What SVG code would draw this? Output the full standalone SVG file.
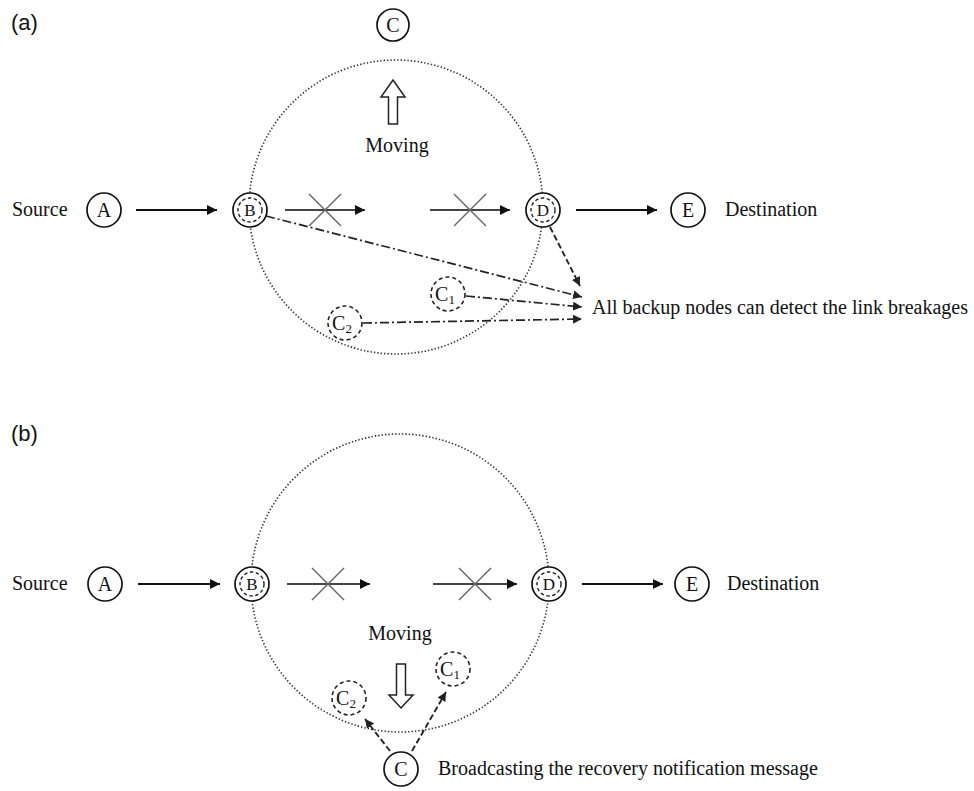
<svg xmlns="http://www.w3.org/2000/svg" width="974" height="791" viewBox="0 0 974 791">
<defs>
<marker id="ah" markerUnits="userSpaceOnUse" markerWidth="11" markerHeight="10" refX="10" refY="5" orient="auto"><path d="M0,0 L10,5 L0,10 z" fill="#111"/></marker>
<marker id="ah2" markerUnits="userSpaceOnUse" markerWidth="10" markerHeight="9" refX="9" refY="4.5" orient="auto"><path d="M0,0 L9,4.5 L0,9 z" fill="#222"/></marker>
</defs>
<style>
.lab{font-family:"Liberation Sans",Arial,sans-serif;font-size:22px;fill:#111}
.t{font-family:"Liberation Serif","Times New Roman",serif;font-size:20px;fill:#111}
.nl{font-family:"Liberation Serif","Times New Roman",serif;font-size:20px;fill:#111;text-anchor:middle}
.ns{font-family:"Liberation Serif","Times New Roman",serif;font-size:17px;fill:#111;text-anchor:middle}
.node{fill:#fff;stroke:#111;stroke-width:1.7}
.inner{fill:none;stroke:#222;stroke-width:1.4;stroke-dasharray:3.5 2.5}
.dnode{fill:#fff;stroke:#222;stroke-width:1.6;stroke-dasharray:4 3}
.range{fill:none;stroke:#333;stroke-width:1.6;stroke-dasharray:1.4 2}
.arr{stroke:#111;stroke-width:2;fill:none;marker-end:url(#ah)}
.brk{stroke:#444;stroke-width:2;fill:none;marker-end:url(#ah)}
.x{stroke:#666;stroke-width:1.5}
.dd{stroke:#222;stroke-width:1.7;fill:none;stroke-dasharray:9 3 2 3;marker-end:url(#ah2)}
.ds{stroke:#222;stroke-width:1.9;fill:none;stroke-dasharray:6 3;marker-end:url(#ah2)}
.hollow{fill:#fff;stroke:#222;stroke-width:1.5}
</style>
<text class="lab" x="11" y="30">(a)</text>
<text class="lab" x="11" y="441">(b)</text>
<circle class="range" cx="396" cy="207" r="147"/>
<circle class="range" cx="400" cy="583" r="149"/>
<g id="connectors">
<line class="arr" x1="136" y1="210" x2="217" y2="210"/>
<line class="brk" x1="285" y1="210" x2="365" y2="210"/>
<line class="x" x1="309" y1="194" x2="341" y2="226"/><line class="x" x1="309" y1="226" x2="341" y2="194"/>
<line class="brk" x1="430" y1="210" x2="510" y2="210"/>
<line class="x" x1="454" y1="194" x2="486" y2="226"/><line class="x" x1="454" y1="226" x2="486" y2="194"/>
<line class="arr" x1="576" y1="210" x2="657" y2="210"/>
<line class="dd" x1="266" y1="216" x2="582" y2="297"/>
<line class="dd" x1="466" y1="296" x2="582" y2="307"/>
<line class="dd" x1="363" y1="323" x2="582" y2="319"/>
<line class="ds" x1="550" y1="227" x2="580" y2="286"/>
<line class="arr" x1="138" y1="584" x2="220" y2="584"/>
<line class="brk" x1="287" y1="584" x2="370" y2="584"/>
<line class="x" x1="312" y1="568" x2="344" y2="600"/><line class="x" x1="312" y1="600" x2="344" y2="568"/>
<line class="brk" x1="433" y1="584" x2="517" y2="584"/>
<line class="x" x1="459" y1="568" x2="491" y2="600"/><line class="x" x1="459" y1="600" x2="491" y2="568"/>
<line class="arr" x1="582" y1="584" x2="663" y2="584"/>
<line class="ds" x1="390" y1="751" x2="365" y2="719"/>
<line class="ds" x1="412" y1="751" x2="446" y2="692"/>
</g>
<g id="moving-a">
<path class="hollow" d="M393,80 L405,97 L397.5,97 L397.5,124 L388.5,124 L388.5,97 L381,97 Z"/>
<text class="t" x="397" y="152" text-anchor="middle">Moving</text>
</g>
<g id="moving-b">
<path class="hollow" d="M401,708 L413,695 L405.5,695 L405.5,664 L396.5,664 L396.5,695 L389,695 Z"/>
<text class="t" x="400" y="640" text-anchor="middle">Moving</text>
</g>
<text class="t" x="12" y="216">Source</text>
<text class="t" x="725" y="216">Destination</text>
<text class="t" x="592" y="314">All backup nodes can detect the link breakages</text>
<text class="t" x="12" y="590">Source</text>
<text class="t" x="727" y="590">Destination</text>
<text class="t" x="438" y="775">Broadcasting the recovery notification message</text>
<g id="nodeA-a"><circle class="node" cx="104" cy="210" r="17"/><text class="nl" x="104" y="217">A</text></g>
<g id="nodeB-a"><circle class="node" cx="250" cy="210" r="17"/><circle class="inner" cx="250" cy="210" r="12"/><text class="ns" x="250" y="216">B</text></g>
<g id="nodeD-a"><circle class="node" cx="543" cy="210" r="17"/><circle class="inner" cx="543" cy="210" r="12"/><text class="ns" x="543" y="216">D</text></g>
<g id="nodeE-a"><circle class="node" cx="688" cy="210" r="17"/><text class="nl" x="688" y="217">E</text></g>
<g id="nodeC-a"><circle class="node" cx="393" cy="25" r="16"/><text class="nl" x="393" y="32">C</text></g>
<g id="nodeC1-a"><circle class="dnode" cx="448" cy="294" r="17"/><text class="nl" x="445" y="301">C<tspan font-size="13" dy="3">1</tspan></text></g>
<g id="nodeC2-a"><circle class="dnode" cx="345" cy="323" r="17"/><text class="nl" x="342" y="330">C<tspan font-size="13" dy="3">2</tspan></text></g>
<g id="nodeA-b"><circle class="node" cx="105" cy="584" r="17"/><text class="nl" x="105" y="591">A</text></g>
<g id="nodeB-b"><circle class="node" cx="252" cy="584" r="17"/><circle class="inner" cx="252" cy="584" r="12"/><text class="ns" x="252" y="590">B</text></g>
<g id="nodeD-b"><circle class="node" cx="549" cy="584" r="17"/><circle class="inner" cx="549" cy="584" r="12"/><text class="ns" x="549" y="590">D</text></g>
<g id="nodeE-b"><circle class="node" cx="692" cy="584" r="17"/><text class="nl" x="692" y="591">E</text></g>
<g id="nodeC1-b"><circle class="dnode" cx="453" cy="669" r="17"/><text class="nl" x="450" y="676">C<tspan font-size="13" dy="3">1</tspan></text></g>
<g id="nodeC2-b"><circle class="dnode" cx="349" cy="698" r="17"/><text class="nl" x="346" y="705">C<tspan font-size="13" dy="3">2</tspan></text></g>
<g id="nodeC-b"><circle class="node" cx="401" cy="769" r="17"/><text class="nl" x="401" y="776">C</text></g>
</svg>
